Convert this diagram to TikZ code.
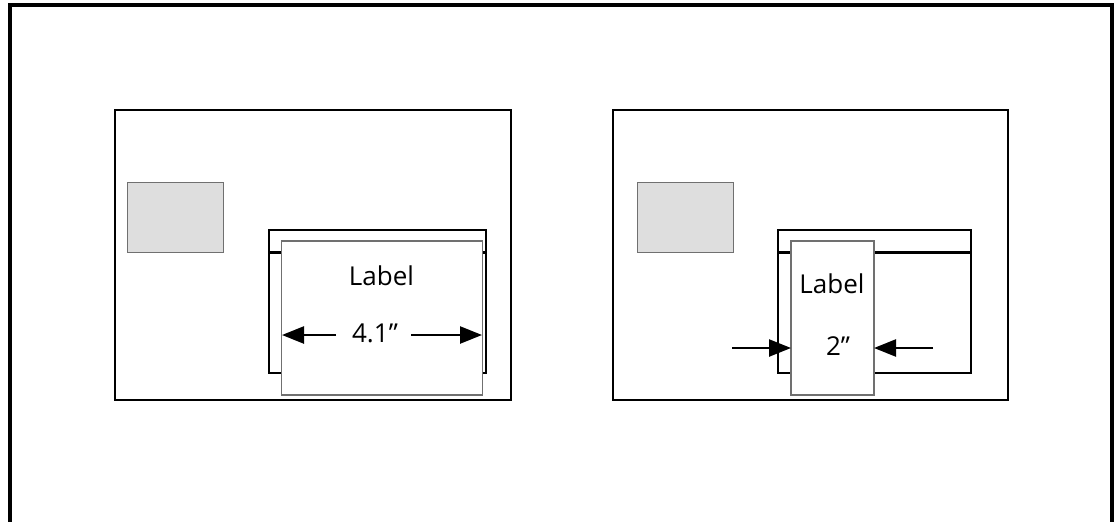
\documentclass[tikz,border=0pt]{standalone}
\usepackage{fontspec}
\setmainfont{Open Sans}
\usetikzlibrary{arrows.meta}
\definecolor{boxgray}{HTML}{DEDEDE}
\definecolor{edgegray}{HTML}{707070}
\tikzset{
  panel/.style={draw=black, line width=2.5pt, minimum width=#1, inner sep=0pt, outer sep=0pt},
  grayblock/.style={draw=edgegray, line width=1pt, fill=boxgray, minimum width=96pt, minimum height=70pt, inner sep=0pt, outer sep=0pt},
  window/.style={draw=black, line width=2.8pt, inner sep=0pt, outer sep=0pt},
  sheet/.style={draw=edgegray, line width=1.1pt, fill=white, inner sep=0pt, outer sep=0pt},
  lbl/.style={font=\fontsize{26}{30}\selectfont, inner sep=0pt},
  dimarrow/.style={line width=2.5pt, -{Triangle[length=22pt,width=17pt]}},
}
\begin{document}
\begin{tikzpicture}[x=1pt,y=-1pt]
\useasboundingbox (0,0) rectangle (1114,522);
% outer frame
\coordinate (fa) at (10,524);
\coordinate (fb) at (10,5);
\coordinate (fc) at (1112,5);
\coordinate (fd) at (1112,524);
\draw[line width=3.2pt] (fa) -- (fb) -- (fc) -- (fd);

% ---------- left panel ----------
\node[panel=396pt, minimum height=290pt] (lp) at (313,255) {};
\node[grayblock] (lg) at (175,217) {};
\node[window, minimum width=217pt, minimum height=143pt] (lw) at (377.5,301.5) {};
\coordinate (lwl) at (269,252.7);
\coordinate (lwr) at (486,252.7);
\draw[line width=2.8pt] (lwl) -- (lwr);
\node[sheet, minimum width=201pt, minimum height=154pt] (ls) at (382,318) {};
\node[lbl] (lt) at (381.5,276) {Label};
\node[lbl] (ld) at (375,333) {4.1”};
\coordinate (la1) at (336,335);
\coordinate (la2) at (282,335);
\coordinate (la3) at (411,335);
\coordinate (la4) at (482,335);
\draw[dimarrow] (la1) -- (la2);
\draw[dimarrow] (la3) -- (la4);

% ---------- right panel ----------
\node[panel=395pt, minimum height=290pt] (rp) at (810.5,255) {};
\node[grayblock] (rg) at (685,217) {};
\node[window, minimum width=193pt, minimum height=143pt] (rw) at (874.5,301.5) {};
\coordinate (rwl) at (778,252.7);
\coordinate (rwr) at (971,252.7);
\draw[line width=2.8pt] (rwl) -- (rwr);
\node[sheet, minimum width=83pt, minimum height=154pt] (rs) at (832.5,318) {};
\node[lbl] (rt) at (832,284) {Label};
\node[lbl] (rd) at (838,346) {2\char"22};
\coordinate (ra1) at (732,348);
\coordinate (ra2) at (791,348);
\coordinate (ra3) at (933,348);
\coordinate (ra4) at (874,348);
\draw[dimarrow] (ra1) -- (ra2);
\draw[dimarrow] (ra3) -- (ra4);
\end{tikzpicture}
\end{document}
